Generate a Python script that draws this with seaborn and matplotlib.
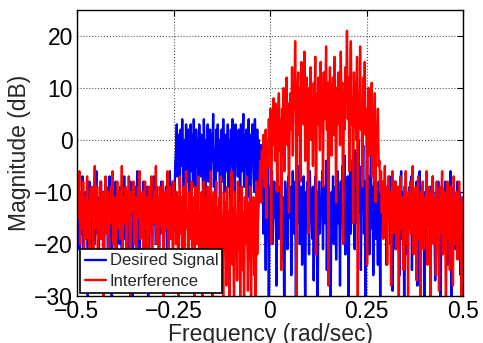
import numpy as np
import pandas as pd
import matplotlib
matplotlib.use("Agg")
import matplotlib.pyplot as plt
import seaborn as sns

# magnitude in dB (estimated, equally spaced in frequency)
desired_db = [
    # -0.5 .. -0.245
    -12, -16, -9, -21, -14, -11, -18, -7, -25, -13, -15, -10, -19, -12, -30, -14, -8, -17, -11, -22,
    -13, -9, -16, -20, -12, -6, -18, -14, -27, -11, -15, -8, -13, -19, -10, -24, -12, -16, -9, -14,
    -21, -11, -7, -17, -13, -33, -15, -10, -18, -12, -8, -23, -14, -11, -16, -20, -9, -13, -28, -12,
    -15, -7, -19, -11, -14, -10, -22, -16, -12, -8, -18, -13, -31, -11, -15, -9, -20, -14, -6, -17,
    -12, -25, -10, -15, -13, -19, -8, -16, -11, -21, -14, -9, -35, -12, -17, -10, -14, -23, -11, -7,
    -16, -13, -20, -9, -15, -12, -29, -11, -18, -8, -14, -10, -22, -13, -17, -9, -15, -26, -12, -10,
    -6, -14, -19, -11, -8, -16, -12, -5,
    # -0.245 .. -0.03
    -2, 3, -7, 1, -4, -9, 2, -5, 4, -3, -10, 0, -6, 3, -8, -1, 2, -13, -4, 3,
    -6, 1, -9, 4, -3, -11, 2, -5, 0, -8, 3, -2, -7, 1, -4, -10, 4, -3, -16, 0,
    -5, 3, -8, -1, 2, -7, 1, -4, 5, -9, -2, -12, 2, -6, 3, -3, 0, -18, -5, 2,
    -8, 4, -3, -10, 1, -6, -2, 3, -9, 0, -12, 2, -5, 4, -7, -1, -10, 3, -4, 0,
    -7, 2, -3, -14, 3, -6, -1, 5, -9, 1, -5, 2, -11, -2, 4, -7, -20, 1, -4, 3,
    -6, -10, 4, -2, -8, 2, -11, 0,
    # -0.03 .. 0.29
    -3, -8, -1, -12, -6, -18, -4, -10, -25, -7, -14, -5, -32, -9, -16, -11, -6, -20, -13, -8,
    -15, -10, -28, -7, -12, -19, -9, -14, -6, -23, -11, -16, -35, -8, -13, -10, -21, -7, -15, -12,
    -9, -26, -14, -6, -18, -11, -8, -30, -13, -10, -16, -5, -20, -12, -9, -24, -15, -7, -13, -33,
    -10, -17, -8, -12, -22, -6, -14, -11, -19, -9, -27, -13, -7, -15, -10, -36, -12, -8, -18, -11,
    -14, -6, -21, -9, -13, -16, -4, -25, -11, -8, -17, -12, -30, -10, -15, -7, -20, -13, -9, -23,
    -12, -6, -16, -10, -28, -8, -14, -5, -19, -11, -3, -22, -9, -15, -7, -34, -12, -6, -18, -10,
    -4, -13, -8, -21, -2, -11, -16, -6, 0, -14, -9, -25, -5, -12, -1, -18, -8, -30, -10, -4,
    -15, -7, -22, -11, -3, -17, -9, -26, -13, -6, -19, -10, -14, -24, -8, -12, -31, -9, -16, -11,
    # 0.29 .. 0.5
    -13, -8, -18, -11, -24, -9, -15, -12, -7, -20, -14, -10, -29, -12, -16, -8, -21, -13, -9, -17,
    -11, -26, -14, -6, -19, -12, -10, -33, -15, -8, -13, -22, -11, -17, -9, -14, -7, -25, -12, -16,
    -10, -19, -13, -8, -28, -11, -15, -6, -21, -14, -9, -17, -12, -31, -10, -16, -8, -13, -23, -11,
    -15, -9, -20, -12, -7, -18, -14, -27, -10, -13, -16, -8, -22, -11, -35, -14, -9, -17, -12, -19,
    -8, -15, -11, -24, -13, -10, -18, -6, -30, -12, -16, -9, -14, -21, -11, -13, -8, -20, -15, -10,
    -26, -12, -17, -14,
]

interference_db = [
    # -0.5 .. -0.03
    -9, -15, -12, -6, -20, -13, -10, -17, -8, -24, -14, -11, -19, -7, -16, -12, -28, -10, -15, -9,
    -13, -21, -11, -5, -17, -14, -9, -25, -12, -16, -8, -19, -13, -10, -30, -15, -11, -7, -18, -14,
    -10, -22, -12, -16, -9, -14, -6, -20, -13, -11, -27, -15, -8, -17, -12, -10, -19, -14, -5, -23,
    -11, -16, -13, -9, -21, -12, -15, -7, -18, -32, -10, -14, -12, -8, -20, -16, -11, -24, -13, -9,
    -15, -6, -19, -12, -14, -10, -26, -13, -8, -17, -11, -21, -15, -9, -13, -18, -7, -29, -12, -14,
    -10, -16, -5, -20, -13, -11, -23, -9, -15, -12, -18, -8, -31, -14, -10, -17, -12, -6, -22, -13,
    -9, -19, -15, -11, -27, -8, -14, -12, -20, -10, -16, -33, -13, -7, -18, -11, -24, -15, -9, -21,
    -12, -6, -17, -14, -28, -10, -19, -13, -8, -23, -15, -11, -30, -9, -16, -20, -12, -7, -26, -14,
    -18, -10, -32, -13, -8, -21, -15, -11, -27, -9, -17, -24, -12, -6, -19, -35, -14, -10, -22, -16,
    -8, -29, -13, -18, -11, -25, -7, -20, -15, -33, -10, -17, -12, -28, -9, -22, -14, -31, -11, -19,
    -6, -24, -13, -36, -10, -18, -15, -27, -8, -21, -12, -30, -16, -9, -25, -14, -34, -11, -20, -7,
    -17, -29, -12, -23, -9, -32, -15, -19, -11, -26, -13, -35, -8, -22, -16, -12,
    # -0.03 .. 0.28
    -8, -4, -12, -2, -6, 1, -9, -3, 2, -15, 0, -5, 4, -2, 6, -20, 1, -1, 8, 3,
    -4, 7, 0, -10, 5, 9, -2, 4, -25, 6, 2, 10, -6, 8, 3, 12, -1, 7, -14, 5,
    9, 2, 14, -3, 11, 6, 19, 4, -30, 8, 13, 1, 10, -8, 15, 5, 9, 3, 17, -4,
    7, 12, 2, -18, 10, 6, 14, 0, 8, -5, 11, 4, 16, -22, 9, 3, 12, 7, -2, 15,
    6, 10, -9, 13, 4, 8, 18, 2, 11, -28, 7, 14, 5, -3, 9, 12, 1, 16, 6, -12,
    10, 3, 13, 8, -1, 17, 5, 11, -20, 9, 2, 14, 7, 21, 4, 12, -6, 10, 19, 3,
    8, -16, 13, 6, 11, 0, 16, -30, 9, 4, 18, 2, 7, -9, 12, 5, 15, 1, 6, -24,
    4, 10, -3, 8, 1, 11, -7, 5, -2, 9, -12, 3, 0, 6, -5,
    # 0.28 .. 0.5
    -4, -10, -6, -14, -8, -19, -11, -5, -16, -9, -24, -12, -7, -15, -10, -28, -13, -6, -18, -11,
    -14, -8, -21, -12, -9, -32, -15, -7, -17, -11, -13, -25, -9, -16, -6, -20, -12, -30, -10, -14,
    -8, -18, -13, -5, -22, -11, -16, -9, -27, -14, -7, -19, -12, -35, -10, -15, -8, -21, -13, -11,
    -17, -6, -24, -12, -9, -16, -31, -10, -14, -7, -20, -13, -11, -26, -8, -15, -12, -29, -9, -18,
    -11, -6, -22, -14, -10, -17, -33, -12, -8, -19, -13, -25, -9, -16, -11, -28, -7, -14, -20, -12,
    -10, -23, -15, -8, -18, -12, -30, -11, -14,
]

series_names = ["Desired Signal", "Interference"]
xtick_vals = [-0.5, -0.25, 0, 0.25, 0.5]
xtick_labels = ["\u22120.5", "\u22120.25", "0", "0.25", "0.5"]
ytick_vals = [-30, -20, -10, 0, 10, 20]

df = pd.concat([
    pd.DataFrame({"freq": np.linspace(-0.5, 0.5, len(desired_db)), "mag": desired_db, "sig": series_names[0]}),
    pd.DataFrame({"freq": np.linspace(-0.5, 0.5, len(interference_db)), "mag": interference_db, "sig": series_names[1]}),
])

sns.set_style("white")
plt.rcParams["font.family"] = ["Liberation Sans", "DejaVu Sans"]

fig = plt.figure(figsize=(4.83, 3.43), dpi=100)
ax = fig.add_axes([77 / 483, 47 / 343, 386 / 483, 286 / 343])

sns.lineplot(data=df, x="freq", y="mag", hue="sig", estimator=None, sort=False,
             palette={"Desired Signal": "#0000ff", "Interference": "#ff0000"},
             linewidth=1.7, ax=ax)

ax.set_xlim(-0.5, 0.5)
ax.set_ylim(-30, 25)
ax.set_xticks(xtick_vals)
ax.set_xticklabels(xtick_labels)
ax.set_yticks(ytick_vals)
ax.set_yticklabels([str(v).replace("-", "\u2212") for v in ytick_vals])
ax.tick_params(direction="in", top=True, right=True, labelsize=16.5, length=4, pad=3, colors="black")
ax.grid(True, linestyle=":", color="#555555", linewidth=0.8)
for s in ax.spines.values():
    s.set_color("black")
    s.set_linewidth(1.0)

ax.set_xlabel("Frequency (rad/sec)", fontsize=16.5, labelpad=0)
ax.set_ylabel("Magnitude (dB)", fontsize=16.5, labelpad=2)

leg = ax.legend(loc="lower left", fontsize=12, frameon=True, fancybox=False,
                borderaxespad=0.2, handlelength=1.3, handletextpad=0.2,
                borderpad=0.25, labelspacing=0.3)
leg.get_frame().set_edgecolor("black")
leg.get_frame().set_linewidth(1.2)
leg.get_frame().set_alpha(1)

fig.savefig("out.png", dpi=100)
